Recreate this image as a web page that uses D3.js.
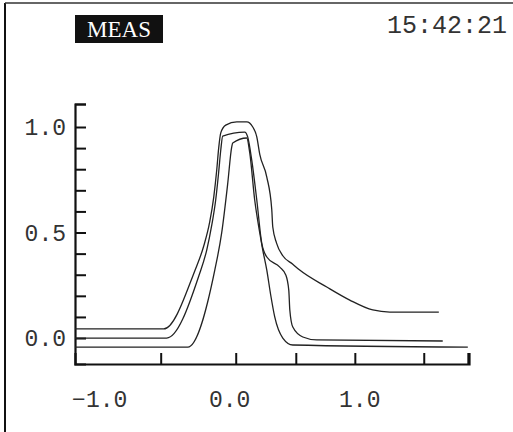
<!DOCTYPE html>
<html>
<head>
<meta charset="utf-8">
<script src="https://cdn.jsdelivr.net/npm/d3@7"></script>
<style>
  body { margin: 0; background: #fff; }
  svg { display: block; }
  .lbl { font-family: "Liberation Mono", "DejaVu Sans Mono", monospace; fill: #333; }
</style>
</head>
<body>
<div id="chart"></div>
<script>
// readout trace, three curves (x in axis units, y normalised)
var curveA = [
  [-1.19, 0.043], [-0.508, 0.043], [-0.269, 0.318], [-0.2, 0.436],
  [-0.154, 0.55], [-0.123, 0.668], [-0.1, 0.796], [-0.085, 0.9], [-0.069, 0.972],
  [-0.031, 1.009], [0.054, 1.024], [0.131, 1.024], [0.177, 1.0], [0.208, 0.953],
  [0.231, 0.87], [0.285, 0.763], [0.323, 0.61], [0.331, 0.526], [0.36, 0.45],
  [0.408, 0.39], [0.485, 0.35], [0.538, 0.322], [0.746, 0.242], [0.923, 0.18],
  [1.1, 0.133], [1.231, 0.123], [1.608, 0.123]
];
var curveB = [
  [-1.19, 0.0], [-0.485, 0.0], [-0.238, 0.294], [-0.177, 0.417],
  [-0.138, 0.536], [-0.108, 0.654], [-0.085, 0.787], [-0.069, 0.891], [-0.054, 0.957],
  [0.115, 0.976], [0.138, 0.953], [0.169, 0.844], [0.208, 0.654], [0.246, 0.45],
  [0.285, 0.384], [0.385, 0.336], [0.431, 0.299], [0.454, 0.227], [0.462, 0.133],
  [0.485, 0.052], [0.562, 0.005], [0.669, -0.009], [1.638, -0.014]
];
var curveC = [
  [-1.19, -0.043], [-0.323, -0.043], [-0.115, 0.322], [-0.062, 0.498], [-0.015, 0.735],
  [0.015, 0.905], [0.023, 0.924], [0.131, 0.948], [0.154, 0.877], [0.192, 0.654],
  [0.231, 0.498], [0.254, 0.417], [0.285, 0.322], [0.315, 0.204], [0.346, 0.1],
  [0.408, 0.0], [0.485, -0.033], [1.831, -0.043]
];
var xTicks = [-0.531, 0.046, 0.508, 0.962, 1.492, 1.831];
var xLabels = [-1.0, 0.0, 1.0];
var yTicks = [0, 0.1, 0.2, 0.3, 0.4, 0.5, 0.6, 0.7, 0.8, 0.9, 1.0, 1.109];
var yLabels = [0.0, 0.5, 1.0];
var modeText = "MEAS";
var timeText = "15:42:21";

var W = 513, H = 432;
var svg = d3.select("#chart").append("svg").attr("width", W).attr("height", H);

// screen frame
svg.append("line").attr("x1", 5).attr("y1", 3).attr("x2", 5).attr("y2", H)
  .attr("stroke", "#111").attr("stroke-width", 2);
svg.append("line").attr("x1", 5).attr("y1", 3).attr("x2", W).attr("y2", 3)
  .attr("stroke", "#333").attr("stroke-width", 1.5);

// header
svg.append("rect").attr("x", 75).attr("y", 15).attr("width", 88).attr("height", 28).attr("fill", "#111");
svg.append("text").attr("x", 119).attr("y", 37).attr("text-anchor", "middle")
  .style("font-family", "'Liberation Serif', 'DejaVu Serif', serif").style("font-size", "23px")
  .attr("fill", "#fff").text(modeText);
svg.append("text").attr("class", "lbl").attr("x", 507).attr("y", 33).attr("text-anchor", "end")
  .style("font-size", "25px").text(timeText);

var x = d3.scaleLinear().domain([-1.19, 1.84]).range([75, 469]);
var y = d3.scaleLinear().domain([-0.123, 1.109]).range([364, 104]);

// axes
var yAxis = svg.append("g").attr("transform", "translate(75,0)")
  .call(d3.axisRight(y).tickValues(yTicks).tickSize(11).tickFormat(""));
var xAxis = svg.append("g").attr("transform", "translate(0,364)")
  .call(d3.axisTop(x).tickValues(xTicks).tickSize(11).tickFormat(""));
[yAxis, xAxis].forEach(function(g){
  g.select(".domain").attr("stroke", "#111").attr("stroke-width", 2.2);
  g.selectAll(".tick line").attr("stroke", "#111").attr("stroke-width", 2);
});

svg.selectAll(".ylbl").data(yLabels).enter().append("text")
  .attr("class", "lbl").attr("x", 66).attr("y", function(d){ return y(d); })
  .attr("dy", "0.35em").attr("text-anchor", "end").style("font-size", "23px")
  .text(function(d){ return d.toFixed(1); });
svg.selectAll(".xlbl").data(xLabels).enter().append("text")
  .attr("class", "lbl").attr("x", function(d){ return x(d); }).attr("y", 407)
  .attr("text-anchor", "middle").style("font-size", "23px")
  .text(function(d){ return (d < 0 ? "\u2212" : "") + Math.abs(d).toFixed(1); });

// curves
var line = d3.line().x(function(d){ return x(d[0]); }).y(function(d){ return y(d[1]); })
  .curve(d3.curveMonotoneX);
[curveA, curveB, curveC].forEach(function(c){
  svg.append("path").datum(c).attr("d", line)
    .attr("fill", "none").attr("stroke", "#222").attr("stroke-width", 1.3);
});
</script>
</body>
</html>
